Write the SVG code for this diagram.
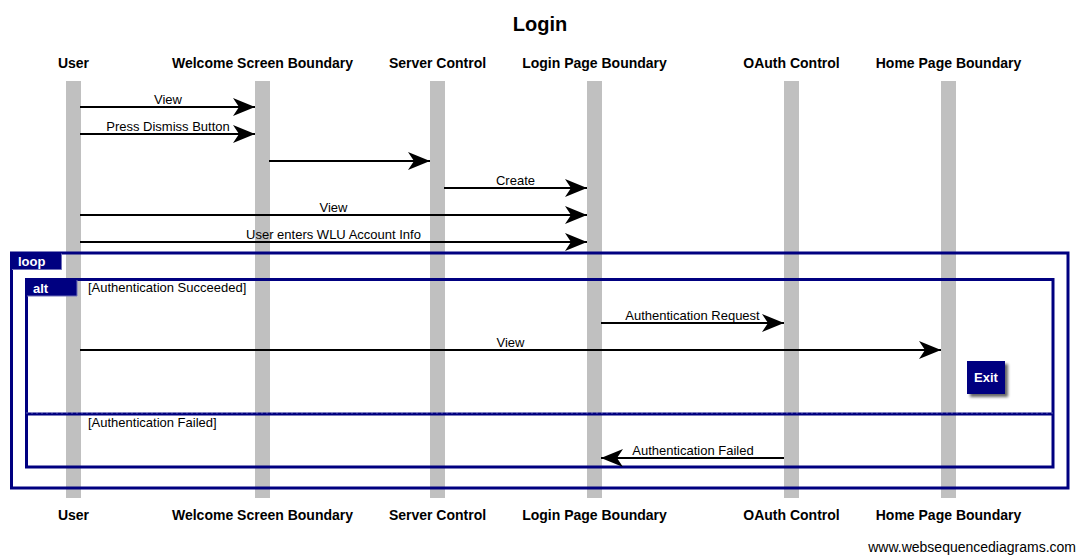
<svg xmlns="http://www.w3.org/2000/svg" width="1078" height="555" viewBox="0 0 1078 555">
<style>
  text { font-family: "Liberation Sans", Arial, sans-serif; }
  .title { font-size: 20px; font-weight: bold; fill: #000; text-anchor: middle; }
  .actor { font-size: 14px; font-weight: bold; fill: #000; text-anchor: middle; }
  .lbl { font-size: 13px; fill: #000; text-anchor: middle; }
  .cond { font-size: 13px; fill: #000; }
  .tab { font-size: 13px; font-weight: bold; fill: #fff; }
  .life { fill: #c0c0c0; }
  .msg { stroke: #000; stroke-width: 2; fill: none; }
  .frame { fill: none; stroke: #000080; stroke-width: 3; }
  .tabbg { fill: #000080; }
  .footer { font-size: 14px; fill: #000; text-anchor: end; }
</style>
<defs>
  <marker id="ah" viewBox="-23 -10 23 20" refX="0" refY="0" markerWidth="23" markerHeight="20" markerUnits="userSpaceOnUse" orient="auto">
    <path d="M0,0 L-22,-9 L-16,0 L-22,9 Z" fill="#000"/>
  </marker>
  <filter id="sh" x="-20%" y="-20%" width="160%" height="160%">
    <feGaussianBlur in="SourceAlpha" stdDeviation="1.5"/>
    <feOffset dx="3" dy="3" result="b"/>
    <feComponentTransfer><feFuncA type="linear" slope="0.6"/></feComponentTransfer>
    <feMerge><feMergeNode/><feMergeNode in="SourceGraphic"/></feMerge>
  </filter>
</defs>
<rect width="1078" height="555" fill="#fff"/>
<text class="title" x="540" y="31">Login</text>

<g id="user">
  <text class="actor" x="73.5" y="68">User</text>
  <rect class="life" x="66" y="81" width="15" height="417"/>
  <text class="actor" x="73.5" y="520">User</text>
</g>
<g id="welcome">
  <text class="actor" x="262.5" y="68">Welcome Screen Boundary</text>
  <rect class="life" x="255" y="81" width="15" height="417"/>
  <text class="actor" x="262.5" y="520">Welcome Screen Boundary</text>
</g>
<g id="server">
  <text class="actor" x="437.5" y="68">Server Control</text>
  <rect class="life" x="430" y="81" width="15" height="417"/>
  <text class="actor" x="437.5" y="520">Server Control</text>
</g>
<g id="login">
  <text class="actor" x="594.5" y="68">Login Page Boundary</text>
  <rect class="life" x="587" y="81" width="15" height="417"/>
  <text class="actor" x="594.5" y="520">Login Page Boundary</text>
</g>
<g id="oauth">
  <text class="actor" x="791.5" y="68">OAuth Control</text>
  <rect class="life" x="784" y="81" width="15" height="417"/>
  <text class="actor" x="791.5" y="520">OAuth Control</text>
</g>
<g id="home">
  <text class="actor" x="948.5" y="68">Home Page Boundary</text>
  <rect class="life" x="941" y="81" width="15" height="417"/>
  <text class="actor" x="948.5" y="520">Home Page Boundary</text>
</g>

<g id="loop-frame">
  <rect class="frame" x="11.5" y="253" width="1056.5" height="235"/>
  <path class="tabbg" d="M11.5,253 H61.5 V269.5 H11.5 Z"/>
  <path d="M12,269.5 H61.5 V253.5" fill="none" stroke="#6f6fb8" stroke-width="1"/>
  <text class="tab" x="18" y="266">loop</text>
</g>
<g id="alt-frame">
  <rect class="frame" x="26.5" y="279.5" width="1026.5" height="187.5"/>
  <path class="tabbg" d="M26.5,279.5 H77 V296 H26.5 Z"/>
  <path d="M27,296 H77 V280" fill="none" stroke="#6f6fb8" stroke-width="1"/>
  <text class="tab" x="33" y="292.5">alt</text>
  <text class="cond" x="88" y="292">[Authentication Succeeded]</text>
  <line x1="26.5" y1="414" x2="1053" y2="414" stroke="#000080" stroke-width="3"/>
  <line x1="26.5" y1="413" x2="1053" y2="413" stroke="#b0b0e0" stroke-width="1" stroke-dasharray="1,4"/>
  <text class="cond" x="88" y="427">[Authentication Failed]</text>
</g>

<g id="connectors">
  <line class="msg" x1="80" y1="107" x2="255" y2="107" marker-end="url(#ah)"/>
  <text class="lbl" x="168" y="104">View</text>
  <line class="msg" x1="80" y1="134" x2="255" y2="134" marker-end="url(#ah)"/>
  <text class="lbl" x="168" y="131">Press Dismiss Button</text>
  <line class="msg" x1="269" y1="161" x2="430" y2="161" marker-end="url(#ah)"/>
  <line class="msg" x1="444" y1="188" x2="587" y2="188" marker-end="url(#ah)"/>
  <text class="lbl" x="515.5" y="185">Create</text>
  <line class="msg" x1="80" y1="215" x2="587" y2="215" marker-end="url(#ah)"/>
  <text class="lbl" x="333.5" y="212">View</text>
  <line class="msg" x1="80" y1="242" x2="587" y2="242" marker-end="url(#ah)"/>
  <text class="lbl" x="333.5" y="239">User enters WLU Account Info</text>
  <line class="msg" x1="601" y1="323" x2="784" y2="323" marker-end="url(#ah)"/>
  <text class="lbl" x="692.5" y="320">Authentication Request</text>
  <line class="msg" x1="80" y1="350" x2="941" y2="350" marker-end="url(#ah)"/>
  <text class="lbl" x="510.5" y="347">View</text>
  <line class="msg" x1="784" y1="458" x2="601" y2="458" marker-end="url(#ah)"/>
  <text class="lbl" x="693" y="455">Authentication Failed</text>
</g>

<g id="exit">
  <rect x="967" y="361" width="38" height="33" fill="#000080" filter="url(#sh)"/>
  <text class="tab" x="986" y="382" text-anchor="middle">Exit</text>
</g>

<text class="footer" x="1076" y="552">www.websequencediagrams.com</text>
</svg>
